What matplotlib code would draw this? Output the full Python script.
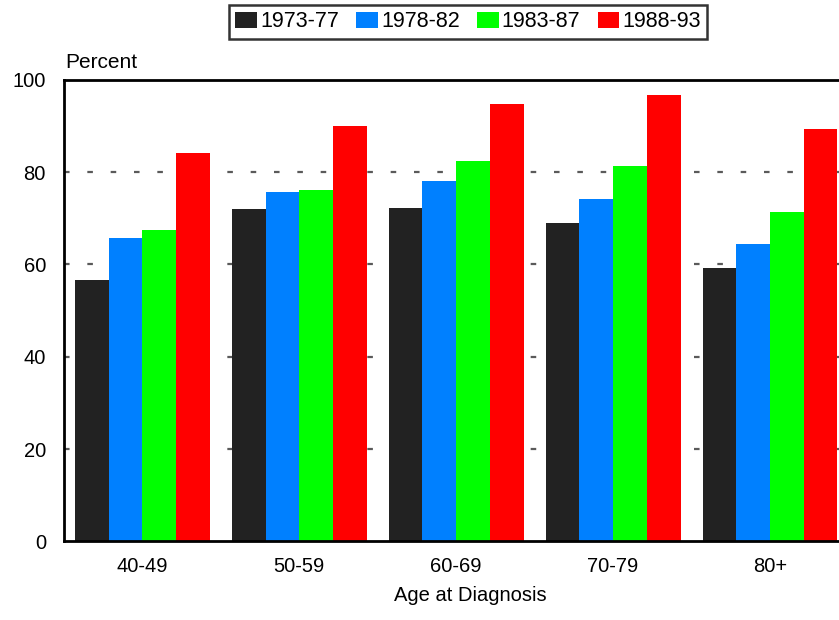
import numpy as np
import matplotlib
matplotlib.use('Agg')
import matplotlib.pyplot as plt

plt.rcParams['font.family'] = ['Liberation Sans', 'DejaVu Sans']

ages = ['40-49', '50-59', '60-69', '70-79', '80+']
periods = ['1973-77', '1978-82', '1983-87', '1988-93']
colors = ['#222222', '#0080ff', '#00ff00', '#ff0000']

v_1973 = [56.6, 72.0, 72.2, 69.0, 59.2]
v_1978 = [65.7, 75.7, 78.1, 74.2, 64.4]
v_1983 = [67.5, 76.1, 82.4, 81.3, 71.4]
v_1988 = [84.2, 90.0, 94.8, 96.7, 89.4]
series = [v_1973, v_1978, v_1983, v_1988]

fig = plt.figure(figsize=(8.39, 6.2), dpi=100)
ax = fig.add_axes([0.0763, 0.127, 0.9237, 0.744])

x = np.arange(len(ages))
w = 0.215
for i, (vals, c, lab) in enumerate(zip(series, colors, periods)):
    ax.bar(x + (i - 1.5) * w, vals, w, color=c, label=lab, zorder=2)

ax.set_xlim(-0.5, 4.44)
ax.set_ylim(0, 100)
ax.set_yticks([0, 20, 40, 60, 80, 100])
ax.set_xticks(x)
ax.set_xticklabels(ages)
ax.tick_params(length=0, labelsize=14.5)
ax.tick_params(axis='x', pad=11)
ax.tick_params(axis='y', pad=13)

# dotted gridlines
for y in [20, 40, 60, 80]:
    ax.axhline(y, color='#5a5a5a', linestyle=(0, (2.5, 8)), linewidth=1.6, zorder=1)

for s in ['left', 'bottom', 'top']:
    ax.spines[s].set_linewidth(2)
ax.spines['right'].set_visible(False)

ax.text(0.524, -0.117, 'Age at Diagnosis', transform=ax.transAxes, fontsize=14.5,
        ha='center', va='center')
ax.text(0.001, 1.026, 'Percent', transform=ax.transAxes, fontsize=15,
        va='baseline', ha='left')

leg = fig.legend(loc='upper center', bbox_to_anchor=(0.558, 0.992), ncol=4, fontsize=15.5,
                 frameon=True, fancybox=False, edgecolor='black', handlelength=1.0,
                 handleheight=0.75, handletextpad=0.15, columnspacing=0.8,
                 borderpad=0.3, borderaxespad=0)
leg.get_frame().set_linewidth(1.8)

fig.savefig('out.png', dpi=100)
